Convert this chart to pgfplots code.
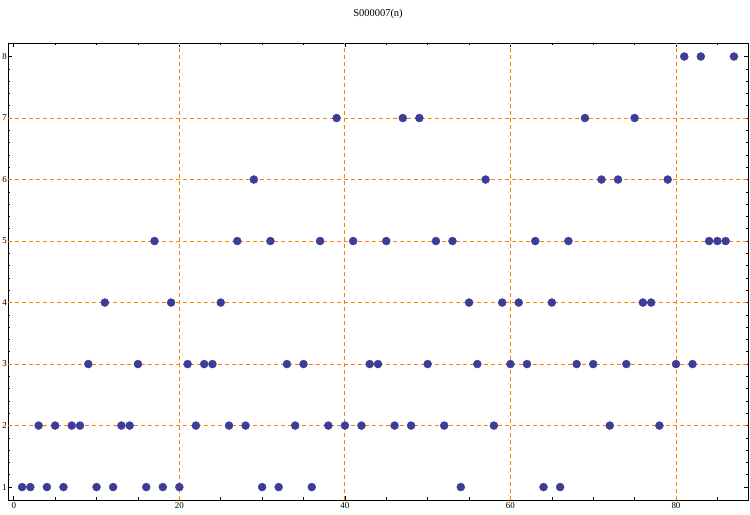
\documentclass[border=0pt]{standalone}
\usepackage{pgfplots}
\pgfplotsset{compat=1.18}
\usepackage{fontspec}
\setmainfont{Liberation Serif}
\usetikzlibrary{calc}
\definecolor{dotc}{RGB}{61,61,153}
\definecolor{gridor}{RGB}{255,128,0}
\begin{document}
\begin{tikzpicture}
\begin{axis}[
  scale only axis,
  width=740bp, height=457bp,
  xmin=-0.7, xmax=88.7,
  ymin=0.79, ymax=8.22,
  xtick={0,20,40,60,80},
  minor xtick={5,10,15,25,30,35,45,50,55,65,70,75,85},
  ytick={1,2,3,4,5,6,7,8},
  minor y tick num=4,
  tick align=inside,
  major tick length=4bp,
  minor tick length=2.5bp,
  axis line style={line width=0.8pt},
  every tick/.style={black, line width=0.6pt},
  /pgf/number format/assume math mode=true,
  ticklabel style={font=\fontsize{9}{9}\selectfont},
  yticklabel style={inner sep=1bp},
  xticklabel style={inner sep=2bp},
  extra x ticks={20,40,60,80},
  extra x tick labels={},
  extra y ticks={2,3,4,5,6,7},
  extra y tick labels={},
  extra tick style={grid=major, major tick length=0pt},
  major grid style={draw=gridor, dash pattern=on 4bp off 3bp, line width=0.8pt},
  title={S000007(n)},
  title style={at={(0.5,1)}, anchor=center, yshift=23bp, font=\fontsize{10.5}{11}\selectfont},
  clip=false,
]
\addplot[only marks, mark=*, mark size=4bp, mark options={fill=dotc, draw=dotc}] table {
x y
1 1
2 1
3 2
4 1
5 2
6 1
7 2
8 2
9 3
10 1
11 4
12 1
13 2
14 2
15 3
16 1
17 5
18 1
19 4
20 1
21 3
22 2
23 3
24 3
25 4
26 2
27 5
28 2
29 6
30 1
31 5
32 1
33 3
34 2
35 3
36 1
37 5
38 2
39 7
40 2
41 5
42 2
43 3
44 3
45 5
46 2
47 7
48 2
49 7
50 3
51 5
52 2
53 5
54 1
55 4
56 3
57 6
58 2
59 4
60 3
61 4
62 3
63 5
64 1
65 4
66 1
67 5
68 3
69 7
70 3
71 6
72 2
73 6
74 3
75 7
76 4
77 4
78 2
79 6
80 3
81 8
82 3
83 8
84 5
85 5
86 5
87 8
};
\end{axis}
\pgfresetboundingbox
\path ($(current axis.south west)+(-8bp,-15bp)$) rectangle ($(current axis.north east)+(2bp,43bp)$);
\end{tikzpicture}
\end{document}
